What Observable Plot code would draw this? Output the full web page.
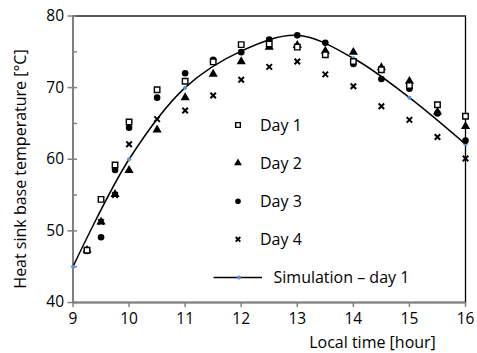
<!DOCTYPE html>
<html>
<head>
<meta charset="utf-8">
<script src="https://cdn.jsdelivr.net/npm/d3@7"></script>
<script src="https://cdn.jsdelivr.net/npm/@observablehq/plot@0.6"></script>
<style>
  html, body { margin: 0; padding: 0; background: white; }
  #chart svg { display: block; }
</style>
</head>
<body>
<div id="chart"></div>
<script>
// ---- data ----
const times = [9.25, 9.5, 9.75, 10, 10.5, 11, 11.5, 12, 12.5, 13, 13.5, 14, 14.5, 15, 15.5, 16];
const day1 = [47.3, 54.4, 59.2, 65.2, 69.7, 70.9, 73.6, 76.0, 76.1, 75.65, 74.6, 73.65, 72.5, 70.3, 67.6, 66.0];
const day2 = [47.3, 51.25, 55.1, 58.45, 64.1, 68.6, 71.9, 73.65, 75.65, 75.9, 75.1, 74.95, 72.8, 70.9, 66.6, 64.6];
const day3 = [47.2, 49.1, 58.5, 64.4, 68.6, 72.0, 73.9, 74.95, 76.7, 77.3, 76.25, 73.3, 71.2, 69.85, 66.4, 62.6];
const day4 = [47.3, 51.25, 55.0, 62.1, 65.6, 66.8, 68.9, 71.1, 72.9, 73.65, 71.85, 70.2, 67.4, 65.5, 63.1, 60.1];
const simTimes = [9, 10, 11, 12, 13, 14, 15, 16];
const simValues = [45, 60, 70, 75.1, 77.3, 74.1, 68.6, 62.1];
const xTicks = [9, 10, 11, 12, 13, 14, 15, 16];
const yTicks = [40, 50, 60, 70, 80];
const yMinorTicks = [40, 45, 50, 55, 60, 65, 70, 75, 80];
const seriesNames = ["Day 1", "Day 2", "Day 3", "Day 4", "Simulation \u2013 day 1"];
const xLabel = "Local time [hour]";
const yLabel = "Heat sink base temperature [\u00B0C]";

const GRAY = "#808080";
const BLUE = "#5b8fd6";
const FONT = "'Open Sans', sans-serif";

const idx = times.map((_, i) => i);
const simIdx = simTimes.map((_, i) => i);

const styles = {
  square:   {symbol: "square",   r: 3.1, fill: "white", stroke: "black", strokeWidth: 1.4},
  triangle: {symbol: "triangle", r: 3.4, fill: "black", stroke: "none"},
  circle:   {symbol: "circle",   r: 3.3, fill: "black", stroke: "none"},
  times:    {symbol: "times",    r: 2.6, fill: "none", stroke: "black", strokeWidth: 2}
};

const chart = Plot.plot({
  width: 477,
  height: 353,
  marginLeft: 72.5,
  marginRight: 12,
  marginTop: 15.5,
  marginBottom: 51,
  x: {domain: [9, 16]},
  y: {domain: [40, 80]},
  style: {fontFamily: FONT, fontSize: "15px", color: "black", background: "white"},
  marks: [
    Plot.frame({stroke: "black", strokeWidth: 1.3}),
    Plot.ruleX([9], {stroke: GRAY, strokeWidth: 2}),
    Plot.ruleY([40], {stroke: GRAY, strokeWidth: 2}),
    Plot.ruleY(yMinorTicks, {y: d => d, x1: 9, x2: 9 + 4.5 / 56.14, stroke: GRAY, strokeWidth: 1.5}),
    Plot.axisX({ticks: xTicks, tickSize: 5, tickPadding: 5, stroke: GRAY, strokeWidth: 1.5, label: null, fontSize: 15.5, tickFormat: d => String(d)}),
    Plot.axisY({ticks: yTicks, tickSize: 5, tickPadding: 4, stroke: GRAY, strokeWidth: 1.5, label: null, fontSize: 15.5, tickFormat: d => String(d)}),
    Plot.line(simIdx, {x: i => simTimes[i], y: i => simValues[i], curve: "catmull-rom", stroke: "black", strokeWidth: 1.5}),
    Plot.dot(simIdx, {x: i => simTimes[i], y: i => simValues[i], r: 2, fill: BLUE}),
    Plot.dot(idx, {x: i => times[i], y: i => day2[i], ...styles.triangle}),
    Plot.dot(idx, {x: i => times[i], y: i => day3[i], ...styles.circle}),
    Plot.dot(idx, {x: i => times[i], y: i => day4[i], ...styles.times}),
    Plot.dot(idx, {x: i => times[i], y: i => day1[i], ...styles.square})
  ]
});

document.getElementById("chart").appendChild(chart);

// ---- axis titles and legend ----
const svg = d3.select(chart);
svg.append("text")
  .attr("transform", "translate(20,169) rotate(-90)")
  .attr("text-anchor", "middle")
  .attr("dominant-baseline", "central")
  .style("font-family", FONT).style("font-size", "16px").attr("fill", "black")
  .text(yLabel);
svg.append("text")
  .attr("x", 372.5).attr("y", 348)
  .attr("text-anchor", "middle")
  .style("font-family", FONT).style("font-size", "16px").attr("fill", "black")
  .text(xLabel);

const legendSymbols = [styles.square, styles.triangle, styles.circle, styles.times];
const symMap = {square: d3.symbolSquare, triangle: d3.symbolTriangle, circle: d3.symbolCircle, times: d3.symbolTimes};
const lg = svg.append("g");
const rowY = i => 125 + i * 38.1;
seriesNames.forEach((name, i) => {
  const y = rowY(i);
  if (i < 4) {
    const s = legendSymbols[i];
    const r = s.r * 0.85;
    lg.append("path")
      .attr("transform", `translate(238,${y})`)
      .attr("d", d3.symbol(symMap[s.symbol], Math.PI * r * r)())
      .attr("fill", s.fill).attr("stroke", s.stroke).attr("stroke-width", s.strokeWidth || 0);
    lg.append("text").attr("x", 260).attr("y", y).attr("dominant-baseline", "central")
      .attr("text-anchor", "start")
      .style("font-family", FONT).style("font-size", "16px").text(name);
  } else {
    lg.append("line").attr("x1", 213.5).attr("x2", 262).attr("y1", y).attr("y2", y)
      .attr("stroke", "black").attr("stroke-width", 1.5);
    lg.append("circle").attr("cx", 239).attr("cy", y).attr("r", 2).attr("fill", BLUE);
    lg.append("text").attr("x", 273.5).attr("y", y).attr("dominant-baseline", "central")
      .attr("text-anchor", "start")
      .style("font-family", FONT).style("font-size", "16px").text(name);
  }
});
</script>
</body>
</html>
